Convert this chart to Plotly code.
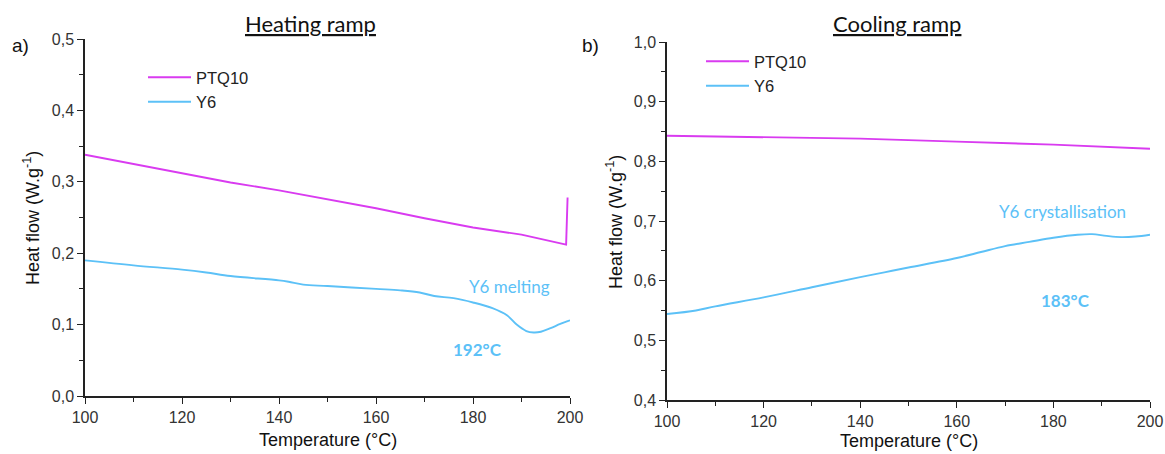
import plotly.graph_objects as go

# Heating ramp data
heat_ptq_x = [100, 110, 120, 130, 140, 150, 160, 170, 180, 190, 197, 199.2, 199.5]
heat_ptq_y = [0.338, 0.325, 0.313, 0.299, 0.288, 0.276, 0.263, 0.249, 0.236, 0.226, 0.216, 0.212, 0.278]
heat_y6_x = [100, 110, 120, 125, 130, 140, 142, 145, 150, 160, 165, 169, 172, 176, 180, 184, 187, 189, 191, 192.5, 194, 196, 198, 200]
heat_y6_y = [0.190, 0.183, 0.177, 0.173, 0.168, 0.162, 0.160, 0.156, 0.154, 0.150, 0.148, 0.145, 0.140, 0.137, 0.131, 0.123, 0.113, 0.100, 0.091, 0.089, 0.090, 0.095, 0.101, 0.106]

# Cooling ramp data
cool_ptq_x = [100, 120, 140, 160, 180, 200]
cool_ptq_y = [0.843, 0.841, 0.838, 0.833, 0.828, 0.821]
cool_y6_x = [100, 106, 110, 120, 130, 140, 145, 150, 160, 165, 170, 175, 180, 185, 188, 191, 194, 197, 200]
cool_y6_y = [0.544, 0.550, 0.557, 0.572, 0.589, 0.606, 0.614, 0.622, 0.638, 0.648, 0.658, 0.665, 0.672, 0.677, 0.678, 0.675, 0.673, 0.674, 0.677]

MAG = "#D93BF0"
BLUE = "#5CC1F7"
W, H = 1165, 454

def px(x):
    return x / W

def py(y):
    return (H - y) / H

fig = go.Figure()
fig.add_trace(go.Scatter(x=heat_ptq_x, y=heat_ptq_y, mode="lines", name="PTQ10",
                         line=dict(color=MAG, width=1.9), xaxis="x", yaxis="y", legend="legend"))
fig.add_trace(go.Scatter(x=heat_y6_x, y=heat_y6_y, mode="lines", name="Y6", line_shape="spline",
                         line=dict(color=BLUE, width=1.9), xaxis="x", yaxis="y", legend="legend"))
fig.add_trace(go.Scatter(x=cool_ptq_x, y=cool_ptq_y, mode="lines", name="PTQ10",
                         line=dict(color=MAG, width=1.9), xaxis="x2", yaxis="y2", legend="legend2"))
fig.add_trace(go.Scatter(x=cool_y6_x, y=cool_y6_y, mode="lines", name="Y6", line_shape="spline",
                         line=dict(color=BLUE, width=1.9), xaxis="x2", yaxis="y2", legend="legend2"))

axis_common = dict(showgrid=False, zeroline=False, showline=True, linecolor="#222", linewidth=1.5,
                   ticks="outside", ticklen=6, tickwidth=1.3, tickcolor="#222",
                   tickfont=dict(family="Liberation Sans, Arial", size=16, color="#333"),
                   automargin=False, fixedrange=True)

leg_font = dict(family="Liberation Sans, Arial", size=16.5, color="#222")

fig.update_layout(
    width=W, height=H,
    margin=dict(l=0, r=0, t=0, b=0),
    paper_bgcolor="white", plot_bgcolor="white",
    separators=", ",
    xaxis=dict(domain=[px(85), px(570)], range=[100, 200], dtick=20, anchor="y",
               minor=dict(dtick=10, ticks="outside", ticklen=4, tickcolor="#222"), **axis_common),
    yaxis=dict(domain=[py(396), py(39)], range=[0, 0.5], dtick=0.1, tickformat=".1f", anchor="x",
               minor=dict(dtick=0.05, ticks="outside", ticklen=4, tickcolor="#222"), **axis_common),
    xaxis2=dict(domain=[px(667), px(1150)], range=[100, 200], dtick=20, anchor="y2",
                minor=dict(dtick=10, ticks="outside", ticklen=4, tickcolor="#222"), **axis_common),
    yaxis2=dict(domain=[py(400), py(42)], range=[0.4, 1.0], dtick=0.1, tickformat=".1f", anchor="x2",
                minor=dict(dtick=0.05, ticks="outside", ticklen=4, tickcolor="#222"), **axis_common),
    legend=dict(x=px(143), y=py(60), xanchor="left", yanchor="top", bgcolor="rgba(0,0,0,0)",
                font=leg_font, itemwidth=43, tracegroupgap=0),
    legend2=dict(x=px(701), y=py(44), xanchor="left", yanchor="top", bgcolor="rgba(0,0,0,0)",
                 font=leg_font, itemwidth=43, tracegroupgap=0),
    showlegend=True,
)

ann = []

def add(text, x, y, font, **kw):
    ann.append(dict(text=text, x=px(x), y=py(y), xref="paper", yref="paper", showarrow=False,
                    xanchor="center", yanchor="middle", font=font, **kw))

title_font = dict(family="Lato, Open Sans", size=22, color="#111")
add("<u>Heating ramp</u>", 310, 24, title_font)
add("<u>Cooling ramp</u>", 897, 24, title_font)
lbl_font = dict(family="Liberation Sans, Arial", size=19, color="#111")
add("a)", 20, 45, lbl_font)
add("b)", 590, 45, lbl_font)
axt_font = dict(family="Liberation Sans, Arial", size=18, color="#111")
add("Temperature (°C)", 328, 440, axt_font)
add("Temperature (°C)", 909, 441, axt_font)
add("Heat flow (W.g<sup>-1</sup>)", 32, 218, axt_font, textangle=-90)
add("Heat flow (W.g<sup>-1</sup>)", 614, 222, axt_font, textangle=-90)
note_font = dict(family="Lato, Open Sans", size=17, color=BLUE)
add("Y6 melting", 509, 286, note_font)
add("<b>192°C</b>", 477, 349, note_font)
add("Y6 crystallisation", 1062, 212, note_font)
add("<b>183°C</b>", 1065, 300, note_font)
fig.update_layout(annotations=ann)

fig.write_html("out.html")
